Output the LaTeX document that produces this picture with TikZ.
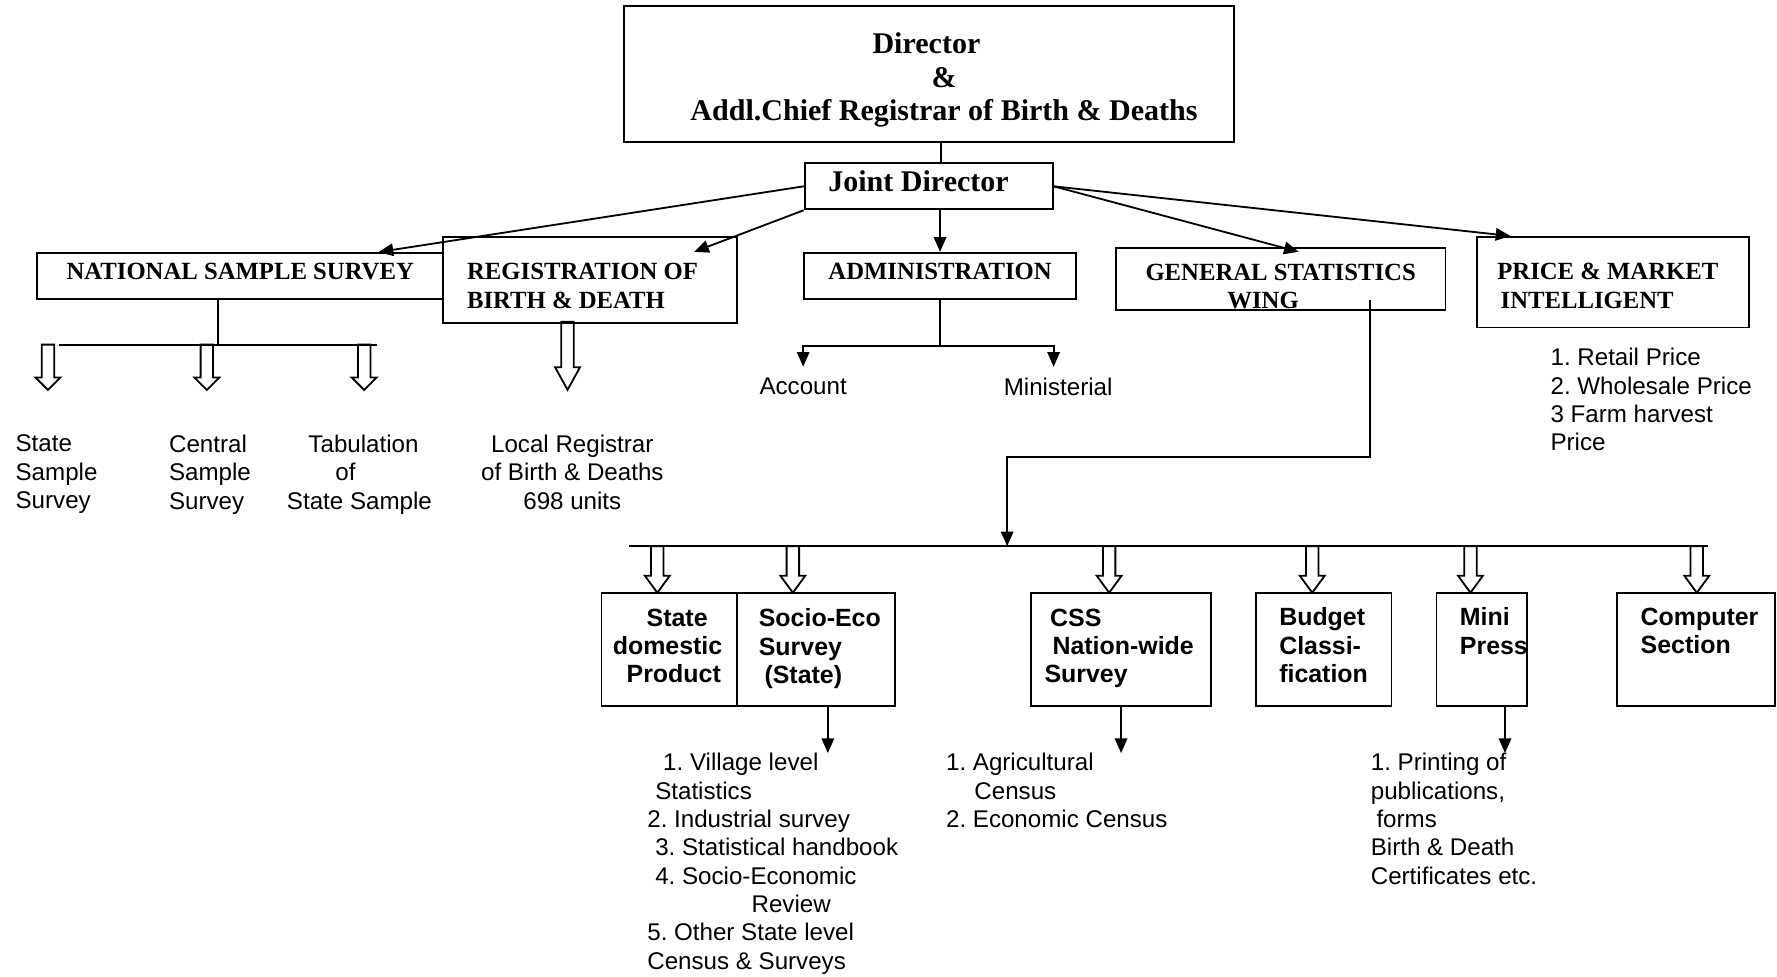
\documentclass[tikz,border=0pt]{standalone}
\usepackage{fontspec}
\setmainfont{Liberation Serif}
\setsansfont{Liberation Sans}
\usetikzlibrary{arrows.meta,calc}
\frenchspacing

% hollow block arrow: #1 = total length, #2 = head length
\tikzset{pics/hollow/.style 2 args={code={
  \draw[line width=1.6pt] (-5.5,0) -- (-5.5,#1-#2) -- (-11,#1-#2) -- (0,#1) -- (11,#1-#2) -- (5.5,#1-#2) -- (5.5,0) -- cycle;}}}

\begin{document}
\begin{tikzpicture}[
    x=1pt, y=-1pt,
    box/.style={draw=black, line width=1.6pt, inner sep=0pt},
    ttl/.style={font=\fontsize{26.5}{29.5}\selectfont\bfseries, inner sep=0pt},
    head/.style={font=\fontsize{21.8}{25}\selectfont\bfseries, inner sep=0pt},
    unit/.style={font=\sffamily\bfseries\fontsize{22}{25}\selectfont, inner sep=0pt, align=left, anchor=north west},
    lst/.style={font=\sffamily\fontsize{21.3}{25}\selectfont, inner sep=0pt, align=left, anchor=north west},
    arrow/.style={-{Triangle[length=13pt,width=11pt]}, line width=1.6pt},
    link/.style={line width=1.6pt}
]
    \useasboundingbox (0,0) rectangle (1568,862);

    % Head of the department
    \node[box, minimum width=538, minimum height=120] (dir) at (819.5,65) {};
    \node[ttl, align=center, anchor=north] (dirlbl) at (833,29) {Director\hspace*{31pt}\\\&\\Addl.Chief Registrar of Birth \& Deaths};
    \node[box, ttl, minimum width=219, minimum height=40.6, text height=17.5pt, text depth=8pt] (jd) at (819.5,164.4) {Joint Director\hspace*{18pt}};

    % Wings
    \node[box, head, minimum width=358, minimum height=40.8, text height=14.4pt, text depth=8pt] (nss) at (212,243.6) {NATIONAL SAMPLE SURVEY};
    \node[box, minimum width=259, minimum height=76] (reg) at (520.5,247) {};
    \node[head, align=left, anchor=north west] (reglbl) at (412,232.2) {REGISTRATION OF\\BIRTH \& DEATH};
    \node[box, head, minimum width=239.8, minimum height=41, text height=14.4pt, text depth=8pt] (admin) at (829.5,243.5) {ADMINISTRATION};
    \node[box, minimum width=291, minimum height=55] (gsw) at (1130,246) {};
    \node[head, align=center, anchor=north] (gswlbl) at (1130,232.5) {GENERAL STATISTICS\\WING\hspace*{31pt}};
    \node[box, minimum width=239.4, minimum height=80] (pmi) at (1423.3,249) {};
    \node[head, align=left, anchor=north west] (pmilbl) at (1321,232.3) {PRICE \& MARKET\\\hspace*{3pt}INTELLIGENT};

    % Sections under the general statistics wing
    \node[box, minimum width=119.5, minimum height=100] (sdp) at (590.5,573) {};
    \node[unit, align=center, anchor=north] (sdplbl) at (589,537) {\hspace*{17pt}State\\domestic\\\hspace*{11pt}Product};
    \node[box, minimum width=139.4, minimum height=100] (seco) at (720,573) {};
    \node[unit] (secolbl) at (669.4,537) {Socio-Eco\\Survey\\\hspace*{5pt}(State)};
    \node[box, minimum width=159.2, minimum height=100] (css) at (989.2,573) {};
    \node[unit] (csslbl) at (921.5,537) {\hspace*{5pt}CSS\\\hspace*{7pt}Nation-wide\\Survey};
    \node[box, minimum width=119.6, minimum height=100] (bud) at (1168,573) {};
    \node[unit] (budlbl) at (1128.6,536) {Budget\\Classi-\\fication};
    \node[box, minimum width=80, minimum height=100] (mini) at (1307.6,573) {};
    \node[unit] (minilbl) at (1288,536) {Mini\\Press};
    \node[box, minimum width=139.6, minimum height=100] (comp) at (1496.6,573) {};
    \node[unit] (complbl) at (1447.5,536) {Computer\\Section};

    % Plain text items
    \node[lst] (ssurv) at (13.6,383.7) {State\\Sample\\Survey};
    \node[lst] (csurv) at (149,383.7) {Central\\Sample\\Survey};
    \node[lst] (tabul) at (253,383.7) {\hspace*{19pt}Tabulation\\\hspace*{42.7pt}of\\State Sample};
    \node[lst, align=center, anchor=north] (locreg) at (505,383.7) {Local Registrar\\of Birth \& Deaths\\698 units};
    \node[lst, anchor=north] (acct) at (708.7,333.6) {Account};
    \node[lst, anchor=north] (minis) at (933.7,333.6) {Ministerial};
    \node[lst] (prices) at (1368,307.1) {1. Retail Price\\2. Wholesale Price\\3 Farm harvest\\Price};
    \node[lst] (socio) at (571,664.5) {\hspace*{14pt}1. Village level\\\hspace*{7pt}Statistics\\2. Industrial survey\\\hspace*{7pt}3. Statistical handbook\\\hspace*{7pt}4. Socio-Economic\\\hspace*{92pt}Review\\5. Other State level\\Census \& Surveys};
    \node[lst] (census) at (834.6,664.5) {1. Agricultural\\\hspace*{25pt}Census\\2. Economic Census};
    \node[lst] (print) at (1209.4,664.5) {1. Printing of\\publications,\\\hspace*{5pt}forms\\Birth \& Death\\Certificates etc.};

    % Director to joint director to wings
    \draw[link] ($(dir.south)+(10.5,0)$) -- ($(jd.north)+(10.5,0)$);
    \draw[arrow] (jd.west) -- ($(nss.north)+(122,0)$);
    \draw[arrow] (jd.south west) -- ($(reg.north)+(92,14)$);
    \draw[arrow] (jd.south -| admin.north) -- (admin.north);
    \draw[arrow] (jd.east) -- ($(gsw.north)+(16,4.5)$);
    \draw[arrow] (jd.east) -- ($(pmi.north west)+(30,0)$);

    % NSS and registration branches
    \coordinate (nbarL) at (52.4,304.1);
    \coordinate (nbarR) at (333,304.1);
    \draw[link] ($(nss.south)+(-19.3,0)$) -- ++(0,40.5);
    \draw[link] (nbarL) -- (nbarR);
    \foreach \x in {42.3,182.5,321.4} \pic at (\x,304.1) {hollow={40}{11}};
    \pic at (500.8,284) {hollow={60}{20}};

    % Administration branches
    \draw[arrow, shorten >=10pt] (admin.south) -- ++(0,40.6) -| (acct.north);
    \draw[arrow, shorten >=10pt] (admin.south) -- ++(0,40.6) -| ($(minis.north)+(-4,0)$);

    % General statistics wing to its sections
    \coordinate (gswout) at ($(gsw.south)+(78.5,-9.5)$);
    \coordinate (gbend) at (888.7,403.6);
    \coordinate (gdrop) at (888.7,482);
    \coordinate (ubarL) at (554.8,482);
    \coordinate (ubarR) at (1507,482);
    \draw[arrow] (gswout) |- (gbend) -- (gdrop);
    \draw[link] (ubarL) -- (ubarR);
    \foreach \x in {580,699.6,978.7,1157.9,1297.5,1497.2} \pic at (\x,482) {hollow={41}{15}};

    % Sections to their work
    \coordinate (secoout) at ($(seco.south)+(10.5,0)$);
    \coordinate (miniout) at ($(mini.south)+(20.4,0)$);
    \draw[arrow] (secoout) -- (secoout |- socio.north);
    \draw[arrow] (css.south) -- (css.south |- census.north);
    \draw[arrow] (miniout) -- (miniout |- print.north);

\end{tikzpicture}
\end{document}
